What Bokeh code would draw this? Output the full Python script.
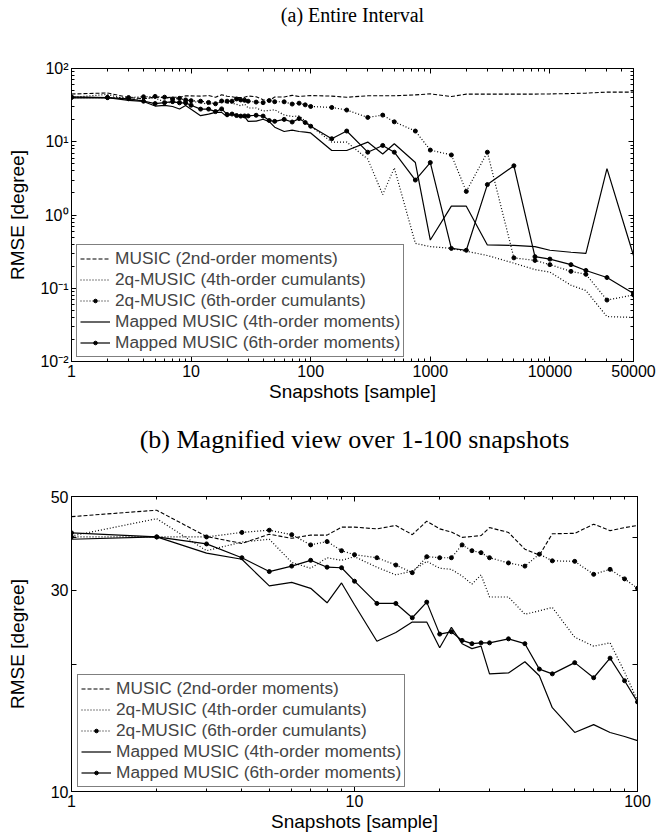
from bokeh.plotting import figure
from bokeh.models import (LogAxis, FixedTicker, Range1d, Legend, LegendItem,
                          NumeralTickFormatter)
from bokeh.layouts import column
from bokeh.embed import file_html
from bokeh.resources import INLINE

# ---------------- data ----------------
snapshots = [1, 2, 3, 4, 5, 6, 7, 8, 9, 10, 12, 14, 16, 18, 20, 22, 24, 26, 28, 30,
             35, 40, 45, 50, 60, 70, 80, 90, 100, 150, 200, 300, 400, 500, 750,
             1000, 1500, 2000, 3000, 5000, 7500, 10000, 15000, 20000, 30000, 50000]

music_2nd = [44.8, 46.4, 40.2, 38.7, 40.7, 39.8, 40.5, 40.5, 42.3, 42.3, 41.9, 42.7,
             40.6, 43.7, 41.9, 41.2, 40.0, 40.2, 40.4, 42.2, 41.1, 37.5, 36.3, 40.8,
             40.9, 43.0, 41.5, 42.2, 42.7, 42.0, 40.5, 42.4, 42.4, 42.4, 43.7, 45.1,
             41.4, 44.7, 44.7, 44.7, 44.7, 45.0, 45.5, 46.1, 47.6, 47.6]

cum_4th = [40.3, 44.3, 37.2, 39.0, 39.6, 34.9, 33.8, 35.8, 35.3, 36.0, 34.0, 32.6,
           33.3, 35.1, 33.8, 33.6, 32.4, 31.0, 32.6, 28.9, 28.9, 26.3, 26.8, 27.3,
           23.2, 22.1, 22.5, 19.2, 16.4, 9.9, 9.9, 5.8, 1.9, 4.4, 0.41, 0.37,
           0.35, 0.32, 0.28, 0.22, 0.18, 0.166, 0.11, 0.093, 0.041, 0.040]

cum_6th = [40.1, 40.1, 40.1, 41.1, 41.6, 40.6, 38.4, 39.1, 37.2, 36.4, 35.8, 34.4,
           33.0, 36.0, 35.8, 35.8, 38.4, 37.2, 36.8, 35.8, 34.8, 34.2, 36.5, 35.2,
           35.1, 32.7, 33.6, 31.9, 30.3, 29.4, 27.1, 21.5, 23.1, 18.7, 14.0, 7.7,
           6.6, 2.1, 7.2, 0.26, 0.24, 0.21, 0.17, 0.155, 0.069, 0.081]

mapped_4th = [39.6, 40.1, 36.7, 35.5, 30.7, 31.3, 30.3, 28.0, 31.2, 27.7, 22.7, 23.8,
              25.2, 25.2, 21.9, 24.5, 22.4, 21.8, 22.1, 19.0, 19.1, 20.3, 18.8, 15.8,
              13.8, 14.4, 13.8, 13.5, 13.2, 7.6, 7.6, 9.9, 6.8, 9.4, 5.2, 0.455,
              1.32, 1.32, 0.39, 0.385, 0.37, 0.33, 0.31, 0.30, 4.3, 0.28]

mapped_6th = [41.0, 40.1, 38.6, 35.8, 33.2, 34.2, 35.3, 34.0, 33.9, 31.5, 27.9, 27.9,
              25.8, 28.1, 23.6, 23.9, 22.8, 22.4, 22.5, 22.5, 23.0, 22.4, 19.5, 19.0,
              20.2, 18.6, 20.7, 18.3, 16.3, 11.0, 14.0, 7.2, 8.9, 7.2, 3.0, 5.2,
              0.35, 0.33, 2.6, 4.7, 0.27, 0.25, 0.21, 0.175, 0.14, 0.085]

labels = ["MUSIC (2nd-order moments)",
          "2q-MUSIC (4th-order cumulants)",
          "2q-MUSIC (6th-order cumulants)",
          "Mapped MUSIC (4th-order moments)",
          "Mapped MUSIC (6th-order moments)"]

title_a = "(a) Entire Interval"
title_b = "(b) Magnified view over 1-100 snapshots"

top_x_ticks = [1, 10, 100, 1000, 10000, 50000]
top_y_ticks = [0.01, 0.1, 1, 10, 100]
top_y_labels = {0.01: "10⁻²", 0.1: "10⁻¹", 1: "10⁰", 10: "10¹", 100: "10²"}
bot_x_ticks = [1, 10, 100]
bot_y_ticks = [10, 20, 30, 40, 50]
bot_y_labels = {10: "10", 20: "", 30: "30", 40: "", 50: "50"}

SANS = "Liberation Sans"
SERIF = "Liberation Serif"


def minors(lo_exp, hi_exp, upper):
    out = []
    for e in range(lo_exp, hi_exp + 1):
        for k in range(2, 10):
            v = k * 10.0 ** e
            if v < upper:
                out.append(v)
    return out


def style_axis(ax, hidden_ticks=None):
    ax.major_tick_in = 5
    ax.major_tick_out = 0
    ax.minor_tick_in = 3
    ax.minor_tick_out = 0
    ax.axis_line_color = "black"
    ax.major_tick_line_color = "black"
    ax.minor_tick_line_color = "black"
    ax.major_label_text_font = SANS
    ax.major_label_text_font_size = "16px"
    ax.major_label_text_color = "black"
    ax.axis_label_text_font = SANS
    ax.axis_label_text_font_size = "19px"
    ax.axis_label_text_font_style = "normal"
    ax.axis_label_text_color = "black"
    ax.major_label_standoff = 3
    ax.axis_label_standoff = 1
    if hidden_ticks is not None:
        ax.major_label_text_font_size = "14px"
        ax.major_label_overrides = {t: "" for t in hidden_ticks}
        ax.major_label_standoff = 0


def draw_series(p, loc):
    r = []
    l0 = p.line(snapshots, music_2nd, line_color="black", line_width=1.1, line_dash="4 2")
    r.append([l0])
    l1 = p.line(snapshots, cum_4th, line_color="black", line_width=1.2, line_dash="1 2")
    r.append([l1])
    l2 = p.line(snapshots, cum_6th, line_color="black", line_width=1.2, line_dash="1 2")
    s2 = p.scatter(snapshots, cum_6th, marker="circle", size=4, color="black")
    r.append([l2, s2])
    l3 = p.line(snapshots, mapped_4th, line_color="black", line_width=1.2)
    r.append([l3])
    l4 = p.line(snapshots, mapped_6th, line_color="black", line_width=1.2)
    s4 = p.scatter(snapshots, mapped_6th, marker="circle", size=4, color="black")
    r.append([l4, s4])
    items = [LegendItem(label=lab, renderers=rr) for lab, rr in zip(labels, r)]
    leg = Legend(items=items, location=loc)
    leg.border_line_color = "black"
    leg.border_line_width = 1
    leg.background_fill_alpha = 1
    leg.label_text_font = SANS
    leg.label_text_font_size = "17.3px"
    leg.glyph_width = 30
    leg.glyph_height = 9
    leg.label_height = 20
    leg.spacing = -2
    leg.padding = 3
    leg.margin = 0
    leg.label_standoff = 5
    p.add_layout(leg)


def base_fig(xr, yr, fw, fh, mb_right, mb_top, mb_bottom):
    p = figure(x_axis_type="log", y_axis_type="log", x_range=xr, y_range=yr,
               frame_width=fw, frame_height=fh, min_border_left=71,
               min_border_right=mb_right, min_border_top=mb_top,
               min_border_bottom=mb_bottom, output_backend="svg",
               toolbar_location=None)
    p.xgrid.visible = False
    p.ygrid.visible = False
    p.outline_line_color = "black"
    p.background_fill_color = "white"
    return p


def top_axis_with_title(p, ticker, ticks, text, size, standoff):
    ax = LogAxis(ticker=ticker)
    style_axis(ax, ticks)
    ax.axis_label = text
    ax.axis_label_text_font = SERIF
    ax.axis_label_text_font_size = size
    ax.axis_label_standoff = standoff
    p.add_layout(ax, "above")


# ---------------- top: entire interval ----------------
p1 = base_fig(Range1d(1, 50000), Range1d(0.01, 100), 562, 293, 25, 68, 50)
xt1 = FixedTicker(ticks=top_x_ticks, minor_ticks=minors(0, 4, 50000))
yt1 = FixedTicker(ticks=top_y_ticks, minor_ticks=minors(-2, 1, 100))
p1.xaxis.ticker = xt1
p1.xaxis.formatter = NumeralTickFormatter(format="0")
p1.xaxis.axis_label = "Snapshots [sample]"
p1.yaxis.ticker = yt1
p1.yaxis.major_label_overrides = top_y_labels
p1.yaxis.axis_label = "RMSE [degree]"
for ax in p1.xaxis + p1.yaxis:
    style_axis(ax)
p1.yaxis.axis_label_standoff = 9
top_axis_with_title(p1, xt1, top_x_ticks, title_a, "20px", 43)
ax_right1 = LogAxis(ticker=yt1)
style_axis(ax_right1, top_y_ticks)
p1.add_layout(ax_right1, "right")
draw_series(p1, (5, 4))

# ---------------- bottom: 1-100 snapshots ----------------
p2 = base_fig(Range1d(1, 100), Range1d(10, 50), 566, 295, 21, 85, 47)
xt2 = FixedTicker(ticks=bot_x_ticks, minor_ticks=minors(0, 1, 100))
yt2 = FixedTicker(ticks=bot_y_ticks, minor_ticks=[])
p2.xaxis.ticker = xt2
p2.xaxis.formatter = NumeralTickFormatter(format="0")
p2.xaxis.axis_label = "Snapshots [sample]"
p2.yaxis.ticker = yt2
p2.yaxis.formatter = NumeralTickFormatter(format="0")
p2.yaxis.major_label_overrides = bot_y_labels
p2.yaxis.axis_label = "RMSE [degree]"
for ax in p2.xaxis + p2.yaxis:
    style_axis(ax)
p2.yaxis.axis_label_standoff = 20
top_axis_with_title(p2, xt2, bot_x_ticks, title_b, "26px", 43)
ax_right2 = LogAxis(ticker=yt2)
style_axis(ax_right2, bot_y_ticks)
p2.add_layout(ax_right2, "right")
draw_series(p2, (6, 4))

layout = column(p1, p2, spacing=0)
open("out.html", "w").write(file_html(layout, INLINE))
